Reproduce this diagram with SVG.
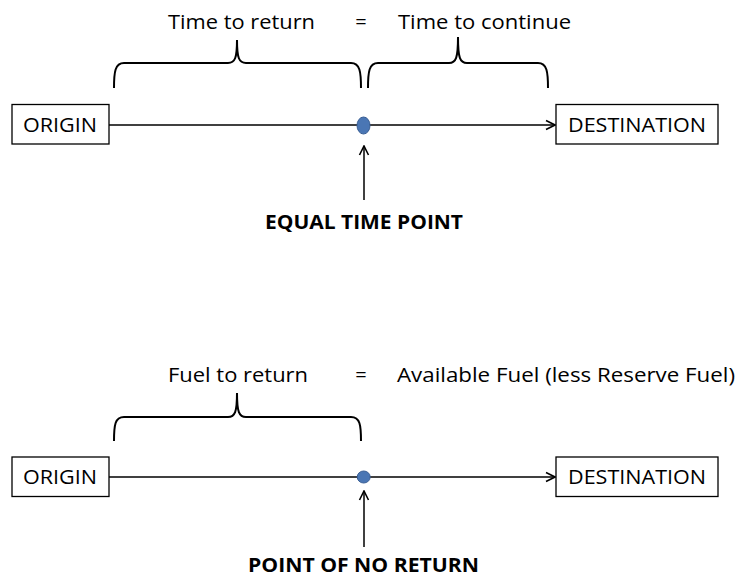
<svg xmlns="http://www.w3.org/2000/svg" width="737" height="577" viewBox="0 0 737 577">
<style>
  .box { fill: #ffffff; stroke: #000000; stroke-width: 1.3; }
  .lbl { font-family: "Open Sans", "Liberation Sans", sans-serif; font-size: 20px; fill: #000000; }
  .bold { font-family: "Open Sans", "Liberation Sans", sans-serif; font-size: 19px; font-weight: bold; fill: #000000; }
  .line { stroke: #000000; stroke-width: 1.5; fill: none; }
  .brace { stroke: #000000; stroke-width: 2; fill: none; }
  .dot { fill: #4a76b4; stroke: #3a5f95; stroke-width: 1; }
</style>
<defs>
  <marker id="arr" viewBox="0 0 12 12" refX="11" refY="6" markerWidth="12" markerHeight="12" markerUnits="userSpaceOnUse" orient="auto">
    <path d="M2,1.5 L11,6 L2,10.5" fill="none" stroke="#000000" stroke-width="1.6"/>
  </marker>
</defs>

<g id="connectors">
  <line class="line" x1="109" y1="125" x2="555" y2="125" marker-end="url(#arr)"/>
  <line class="line" x1="364" y1="200" x2="364" y2="146" marker-end="url(#arr)"/>
  <line class="line" x1="109" y1="477" x2="555" y2="477" marker-end="url(#arr)"/>
  <line class="line" x1="364" y1="547" x2="364" y2="491" marker-end="url(#arr)"/>
</g>

<g id="braces">
  <path class="brace" d="M114,88 C114,72 115,63 124,63 L228,63 C235,63 237,58 237,40 C237,58 239,63 246,63 L351,63 C360,63 361,72 361,88"/>
  <path class="brace" d="M368,88 C368,72 369,63 378,63 L449,63 C456,63 458,58 458,37 C458,58 460,63 467,63 L538,63 C547,63 548,72 548,88"/>
  <path class="brace" d="M114,441 C114,425 115,417 124,417 L228,417 C235,417 237,412 237,393 C237,412 239,417 246,417 L351,417 C360,417 361,425 361,441"/>
</g>

<g id="origin1">
  <rect class="box" x="12" y="104.5" width="97" height="39.5"/>
  <text class="lbl" x="60" y="131.5" text-anchor="middle" textLength="74" lengthAdjust="spacingAndGlyphs">ORIGIN</text>
</g>
<g id="destination1">
  <rect class="box" x="556" y="104.5" width="162" height="39.5"/>
  <text class="lbl" x="637" y="131.5" text-anchor="middle" textLength="138" lengthAdjust="spacingAndGlyphs">DESTINATION</text>
</g>
<g id="etp">
  <ellipse class="dot" cx="363.5" cy="125.5" rx="6.5" ry="8.5"/>
</g>
<g id="labels1">
  <text class="lbl" x="168" y="29" textLength="147" lengthAdjust="spacingAndGlyphs">Time to return</text>
  <text class="lbl" x="361" y="29" text-anchor="middle">=</text>
  <text class="lbl" x="398" y="29" textLength="173" lengthAdjust="spacingAndGlyphs">Time to continue</text>
  <text class="bold" x="265" y="229" textLength="198" lengthAdjust="spacingAndGlyphs">EQUAL TIME POINT</text>
</g>

<g id="origin2">
  <rect class="box" x="12" y="457" width="97" height="39.5"/>
  <text class="lbl" x="60" y="484" text-anchor="middle" textLength="74" lengthAdjust="spacingAndGlyphs">ORIGIN</text>
</g>
<g id="destination2">
  <rect class="box" x="556" y="457" width="162" height="39.5"/>
  <text class="lbl" x="637" y="484" text-anchor="middle" textLength="138" lengthAdjust="spacingAndGlyphs">DESTINATION</text>
</g>
<g id="pnr">
  <ellipse class="dot" cx="363.7" cy="477" rx="6.5" ry="6"/>
</g>
<g id="labels2">
  <text class="lbl" x="168" y="382" textLength="140" lengthAdjust="spacingAndGlyphs">Fuel to return</text>
  <text class="lbl" x="361" y="382" text-anchor="middle">=</text>
  <text class="lbl" x="397" y="382" textLength="338" lengthAdjust="spacingAndGlyphs">Available Fuel (less Reserve Fuel)</text>
  <text class="bold" x="248" y="572" textLength="231" lengthAdjust="spacingAndGlyphs">POINT OF NO RETURN</text>
</g>
</svg>
